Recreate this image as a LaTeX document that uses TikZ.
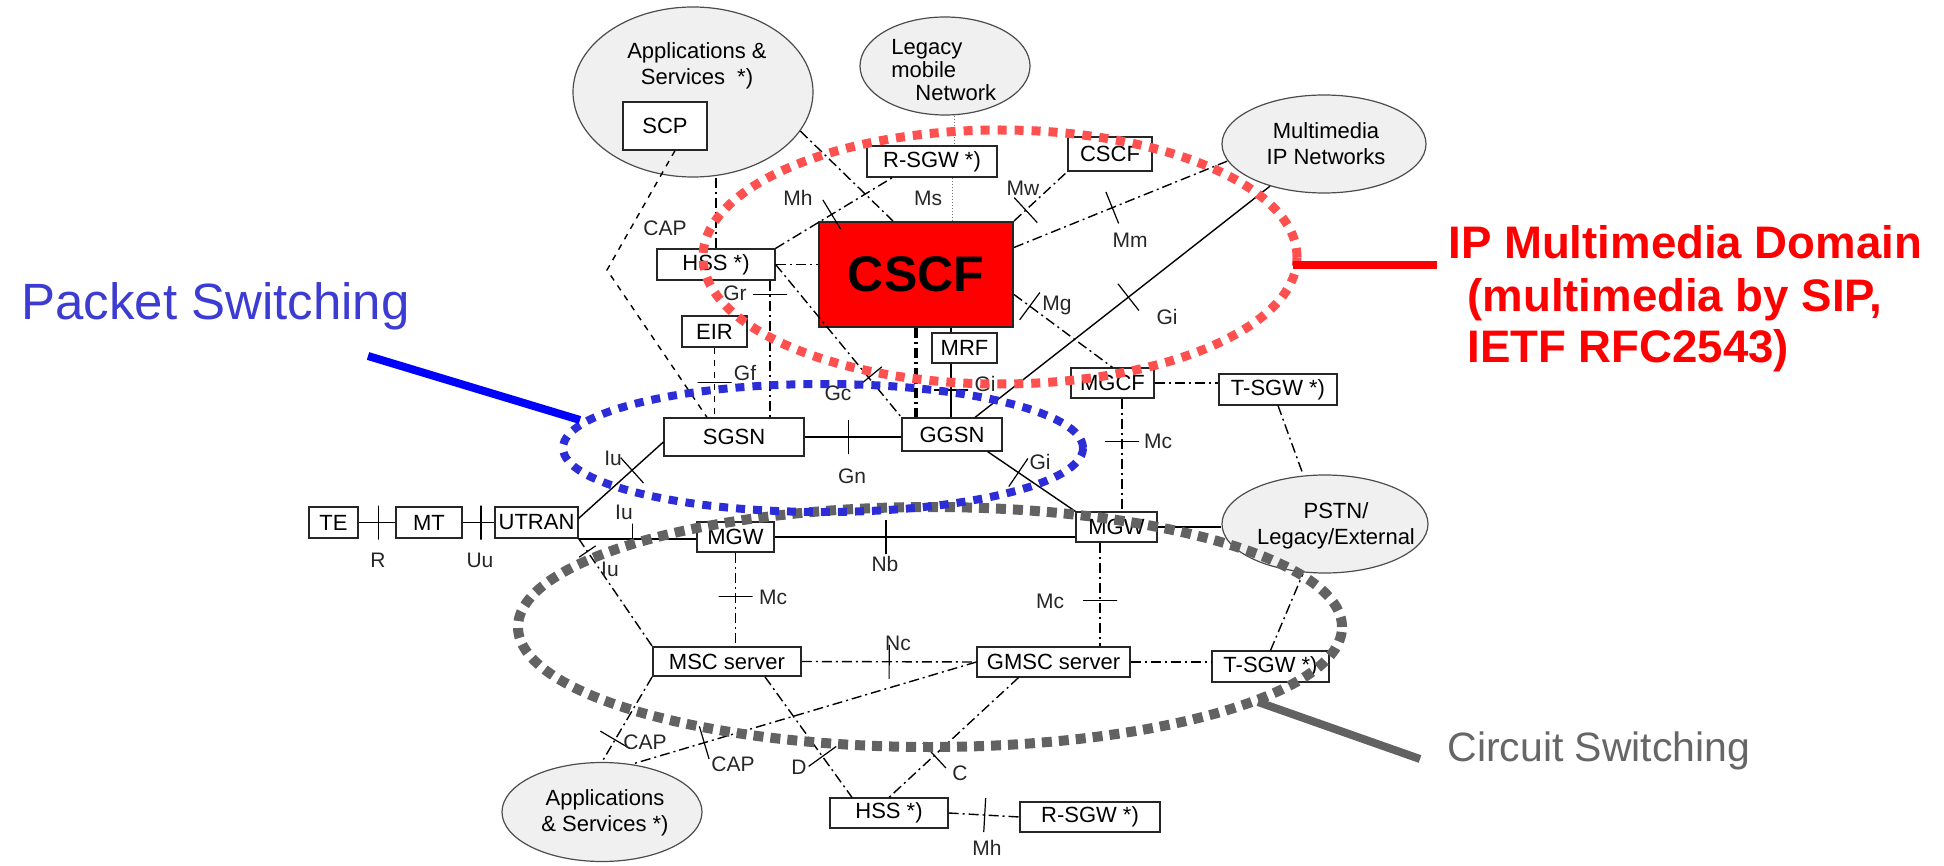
\documentclass[tikz,border=0pt]{standalone}
\usepackage{fontspec}
\setmainfont{Liberation Sans}
\usetikzlibrary{shapes.geometric,shadows}
\definecolor{imsred}{RGB}{255,0,0}
\definecolor{imsring}{RGB}{255,80,80}
\definecolor{psring}{RGB}{45,45,215}
\definecolor{pslead}{RGB}{0,0,255}
\definecolor{pstext}{RGB}{60,60,210}
\definecolor{csgray}{RGB}{98,98,98}
\definecolor{cloudfill}{RGB}{240,240,240}
\newcommand\BoxFont{\fontsize{11}{13}\selectfont}
\newcommand\IfcFont{\fontsize{10.5}{12}\selectfont}
\tikzset{
    box/.style={draw=black!85, fill=white, line width=.6pt, inner sep=0pt, font=\BoxFont,
        drop shadow={shadow xshift=.6pt, shadow yshift=-.6pt, fill=black!55, opacity=1}},
    netcloud/.style={ellipse, draw=black!70, fill=cloudfill, line width=.6pt, inner sep=0pt},
    cloudtext/.style={font=\BoxFont, align=center, inner sep=0pt},
    ifc/.style={line width=.7pt, dash pattern=on 5pt off 2pt on 1pt off 2pt},
    bearer/.style={line width=.7pt},
    sigdot/.style={line width=.5pt, black!55, densely dotted},
    ifctick/.style={draw, solid, sloped, rectangle, inner sep=0pt, minimum width=0pt,
        minimum height=17pt, line width=.6pt},
    ifclabel/.style={font=\IfcFont, text=black!85, inner sep=1pt},
    dotring/.style={line width=4.5pt, dash pattern=on 4.5pt off 4pt},
}

\begin{document}
\begin{tikzpicture}[x=0.5pt, y=-0.5pt]
    \useasboundingbox (0,0) rectangle (1944,866);
    % networks
    \node[netcloud, minimum width=120pt, minimum height=85pt] (AppsTop) at (693,92) {};
    \node[cloudtext] (AppsTopText) at (697,66) {Applications \&\\Services\hspace{6pt}*)};
    \node[box, minimum width=42pt, minimum height=24pt] (SCP) at (665,126) {SCP};
    \node[netcloud, minimum width=85pt, minimum height=49pt] (Legacy) at (945,66) {};
    \node[cloudtext, align=left, anchor=west, font=\fontsize{11}{11.5}\selectfont] (LegacyText) at (891,70) {Legacy\\mobile\\\hspace*{12pt}Network};
    \node[netcloud, minimum width=102pt, minimum height=49pt] (MMNet) at (1324,144) {};
    \node[cloudtext] (MMNetText) at (1326,144) {Multimedia\\IP Networks};
    \node[netcloud, minimum width=103pt, minimum height=49pt] (PSTN) at (1325,524) {};
    \node[cloudtext] (PSTNText) at (1336,526) {PSTN/\\Legacy/External};
    \node[netcloud, minimum width=100pt, minimum height=49.5pt] (AppsLow) at (602,812) {};
    \node[cloudtext] (AppsLowText) at (605,813) {Applications\\\& Services *)};

    % functional entities
    \node[box, minimum width=65pt, minimum height=15.5pt] (RSGWTop) at (932,161.5) {R-SGW *)};
    \node[box, fill=imsred, line width=1pt, minimum width=97pt, minimum height=52.5pt,
        font=\bfseries\fontsize{25}{30}\selectfont] (CSCF) at (916,274.5) {CSCF};
    \node[box, minimum width=42pt, minimum height=17pt] (CSCFSmall) at (1110,154) {CSCF};
    \node[box, minimum width=59pt, minimum height=15.5pt] (HSSTop) at (716,264.5) {HSS *)};
    \node[box, minimum width=32.5pt, minimum height=15.5pt] (EIR) at (714.5,331.5) {EIR};
    \node[box, minimum width=32.5pt, minimum height=15pt] (MRF) at (964.5,348) {MRF};
    \node[box, minimum width=41.5pt, minimum height=15pt] (MGCF) at (1112.5,383) {MGCF};
    \node[box, minimum width=59pt, minimum height=15.5pt] (TSGWTop) at (1278,389.5) {T-SGW *)};
    \node[box, minimum width=70pt, minimum height=19pt] (SGSN) at (734,437) {SGSN};
    \node[box, minimum width=50pt, minimum height=16.5pt] (GGSN) at (952,434.5) {GGSN};
    \node[box, minimum width=24.5pt, minimum height=15.5pt] (TE) at (333.5,522.5) {TE};
    \node[box, minimum width=33pt, minimum height=15.5pt] (MT) at (429,522.5) {MT};
    \node[box, minimum width=41.5pt, minimum height=15.5pt] (UTRAN) at (536.5,522.5) {UTRAN};
    \node[box, minimum width=38.5pt, minimum height=15pt] (MGWLeft) at (735.5,537) {MGW};
    \node[box, minimum width=40.5pt, minimum height=15pt] (MGWRight) at (1116.5,527) {MGW};
    \node[box, line width=.9pt, minimum width=74pt, minimum height=14.5pt] (MSCServer) at (727,661.5) {MSC server};
    \node[box, minimum width=76.5pt, minimum height=15pt] (GMSCServer) at (1053.5,662) {GMSC server};
    \node[box, minimum width=58.5pt, minimum height=15.5pt] (TSGWLow) at (1270.5,666.5) {T-SGW *)};
    \node[box, minimum width=59pt, minimum height=15pt] (HSSLow) at (889,813) {HSS *)};
    \node[box, minimum width=70pt, minimum height=15pt] (RSGWLow) at (1090,817) {R-SGW *)};

    % interfaces, upper part
    \coordinate (CAPBend) at (607,270);
    \draw[ifc, dashed] ([xshift=5pt]SCP.south) -- (CAPBend) -- ([xshift=-13.5pt]SGSN.north);
    \draw[ifc] (AppsTop.south -| HSSTop.north) -- (HSSTop.north);
    \draw[ifc] (AppsTop.-20) -- ([xshift=-11.5pt]CSCF.north);
    \draw[ifc] (HSSTop.north east) -- node[ifctick, pos=.48] {} ([xshift=13pt]RSGWTop.south west);
    \draw[sigdot] ([xshift=10pt]RSGWTop.south) -- ([xshift=10pt]RSGWTop.south |- CSCF.north);
    \draw[sigdot] ([xshift=4.5pt]Legacy.south) -- ([xshift=4.5pt]Legacy.south |- RSGWTop.north);
    \draw[ifc] (CSCF.north east) -- node[ifctick, pos=.22] {} (CSCFSmall.south west);
    \draw[ifc] ([yshift=13.5pt]CSCF.east) -- node[ifctick, pos=.46] {} (MMNet.190);
    \draw[bearer] (MMNet.218) -- node[ifctick, pos=.48] {} ([xshift=11.5pt]GGSN.north);
    \draw[ifc] ([yshift=-10pt]CSCF.east) -- node[ifctick, pos=.16] {} (MGCF.north);
    \draw[ifc] (MGCF) -- (MGCF -| TSGWTop.west);
    \draw[ifc] (TSGWTop.south) -- ([xshift=-11pt]PSTN.north);
    \draw[ifc] ([xshift=4.75pt]MGCF.south) -- node[ifctick, pos=.38] {} ([xshift=4.75pt]MGCF.south |- MGWRight.north);
    \draw[ifc] (HSSTop.east) -- (HSSTop.east -| CSCF.west);
    \draw[ifc] ([xshift=27pt]HSSTop.south) -- node[ifctick, pos=.1] {} ([xshift=27pt]HSSTop.south |- SGSN.north);
    \draw[ifc, dashed] (EIR.south) -- node[ifctick, pos=.5] {} (EIR.south |- SGSN.north);
    \draw[ifc] (HSSTop.east) -- node[ifctick, pos=.74] {} (GGSN.north west);
    \draw[ifc, line width=1.6pt] (CSCF.south) -- (CSCF.south |- GGSN.north);
    \draw[bearer] ([xshift=-6.75pt]MRF.north) -- ([xshift=-6.75pt]MRF.north |- CSCF.south);
    \draw[bearer] ([xshift=-6.75pt]MRF.south) -- node[ifctick, pos=.49] {} ([xshift=-6.75pt]MRF.south |- GGSN.north);
    \draw[bearer, line width=1.3pt] (SGSN.east) -- node[ifctick, pos=.45] {} (SGSN.east -| GGSN.west);
    \draw[bearer] ([yshift=-6pt]UTRAN.north east) -- node[ifctick, pos=.63] {} ([yshift=-2.5pt]SGSN.west);

    % interfaces, lower part
    \draw[bearer] (TE) -- node[ifctick, pos=.53] {} (MT);
    \draw[bearer] (MT) -- node[ifctick, pos=.58] {} (UTRAN);
    \draw[bearer, line width=1pt] (UTRAN.south east) -- node[ifctick, pos=.46, minimum height=10pt, yshift=2.5pt] {} (UTRAN.south east -| MGWLeft.west);
    \draw[ifc] (UTRAN.south east) -- node[ifctick, pos=.12, minimum height=10pt] {} (MSCServer.north west);
    \draw[ifc] (MGWLeft.south) -- node[ifctick, pos=.47] {} (MGWLeft.south |- MSCServer.north);
    \draw[bearer, line width=1pt] (MGWLeft.east) -- node[ifctick, pos=.37] {} (MGWLeft.east -| MGWRight.west);
    \draw[bearer] ([xshift=-7.5pt]GGSN.south east) -- node[ifctick, pos=.35] {} (MGWRight.north west);
    \draw[bearer] (MGWRight.east) -- (MGWRight.east -| PSTN.west);
    \draw[ifc] ([xshift=-8.25pt]MGWRight.south) -- node[ifctick, pos=.56] {} ([xshift=-8.25pt]MGWRight.south |- GMSCServer.north);
    \draw[ifc] (MSCServer.east) -- node[ifctick, pos=.5] {} (GMSCServer.west);
    \draw[ifc] (GMSCServer) -- (GMSCServer -| TSGWLow.west);
    \draw[ifc] (TSGWLow.north) -- ([xshift=-11pt]PSTN.south);
    \draw[ifc] (MSCServer.south west) -- node[ifctick, pos=.74] {} (AppsLow.north);
    \draw[ifc] (GMSCServer.west) -- node[ifctick, pos=.79] {} (AppsLow.58);
    \draw[ifc] ([xshift=19pt]MSCServer.south) -- node[ifctick, pos=.66] {} ([xshift=-18.5pt]HSSLow.north);
    \draw[ifc] ([xshift=-17.5pt]GMSCServer.south) -- node[ifctick, pos=.65] {} (HSSLow.north);
    \draw[ifc] (HSSLow.east) -- node[ifctick, pos=.51] {} (RSGWLow.west);

    % interface names
    \node[ifclabel] (CAPTop) at (665,228) {CAP};
    \node[ifclabel] (MhTop) at (798,198) {Mh};
    \node[ifclabel] (Ms) at (928,198) {Ms};
    \node[ifclabel] (Mw) at (1023,188) {Mw};
    \node[ifclabel] (Mm) at (1130,240) {Mm};
    \node[ifclabel] (GiMM) at (1167,317) {Gi};
    \node[ifclabel] (Mg) at (1057,305) {Mg};
    \node[ifclabel] (Gr) at (735,293) {Gr};
    \node[ifclabel] (Gf) at (745,373) {Gf};
    \node[ifclabel] (Gc) at (838,393) {Gc};
    \node[ifclabel] (GiMRF) at (985,384) {Gi};
    \node[ifclabel] (Gn) at (852,476) {Gn};
    \node[ifclabel] (IuPS) at (613,458) {Iu};
    \node[ifclabel] (GiMGW) at (1040,462) {Gi};
    \node[ifclabel] (McMGCF) at (1158,441) {Mc};
    \node[ifclabel] (R) at (378,560) {R};
    \node[ifclabel] (Uu) at (480,560) {Uu};
    \node[ifclabel] (IuMGW) at (624,512) {Iu};
    \node[ifclabel] (IuMSC) at (610,569) {Iu};
    \node[ifclabel] (McLeft) at (773,597) {Mc};
    \node[ifclabel] (Nb) at (885,564) {Nb};
    \node[ifclabel] (McRight) at (1050,601) {Mc};
    \node[ifclabel] (Nc) at (898,643) {Nc};
    \node[ifclabel] (CAPMSC) at (645,742) {CAP};
    \node[ifclabel] (CAPGMSC) at (733,764) {CAP};
    \node[ifclabel] (D) at (799,767) {D};
    \node[ifclabel] (C) at (960,773) {C};
    \node[ifclabel] (MhLow) at (987,848) {Mh};

    \begin{scope}[color=csgray] % circuit switching
        \draw[dotring, line width=5pt, dash pattern=on 5pt off 3.5pt] (930,627) ellipse [x radius=206pt, y radius=60pt];
        \coordinate (CSLeadA) at (1258,702);
        \coordinate (CSLeadB) at (1420,759);
        \draw[line width=4pt] (CSLeadA) -- (CSLeadB);
        \node[anchor=base west, inner sep=0pt, text=black!60, font=\fontsize{20.5}{24}\selectfont] (CSText) at (1447,761) {Circuit Switching};
    \end{scope}
    \begin{scope}[color=psring] % packet switching
        \draw[dotring, line width=4pt] (823,448) ellipse [x radius=130pt, y radius=32pt];
        \coordinate (PSLeadA) at (368,356);
        \coordinate (PSLeadB) at (580,420);
        \draw[pslead, line width=4pt] (PSLeadA) -- (PSLeadB);
        \node[anchor=base west, inner sep=0pt, text=pstext, font=\fontsize{25.5}{30}\selectfont] (PSText) at (21,320) {Packet Switching};
    \end{scope}
    \begin{scope}[color=imsring] % IP multimedia
        \draw[dotring] (1000,257) ellipse [x radius=148.5pt, y radius=63.5pt];
        \coordinate (IMSLeadA) at (1293,265);
        \coordinate (IMSLeadB) at (1437,265);
        \draw[imsred, line width=4pt] (IMSLeadA) -- (IMSLeadB);
        \node[anchor=base west, inner sep=0pt, text=imsred, font=\bfseries\fontsize{22.8}{27}\selectfont] (IMSTextA) at (1448,259) {IP Multimedia Domain};
        \node[anchor=base west, inner sep=0pt, text=imsred, font=\bfseries\fontsize{22.8}{27}\selectfont] (IMSTextB) at (1467,312) {(multimedia by SIP,};
        \node[anchor=base west, inner sep=0pt, text=imsred, font=\bfseries\fontsize{22.8}{27}\selectfont] (IMSTextC) at (1467,363) {IETF RFC2543)};
    \end{scope}
\end{tikzpicture}
\end{document}
